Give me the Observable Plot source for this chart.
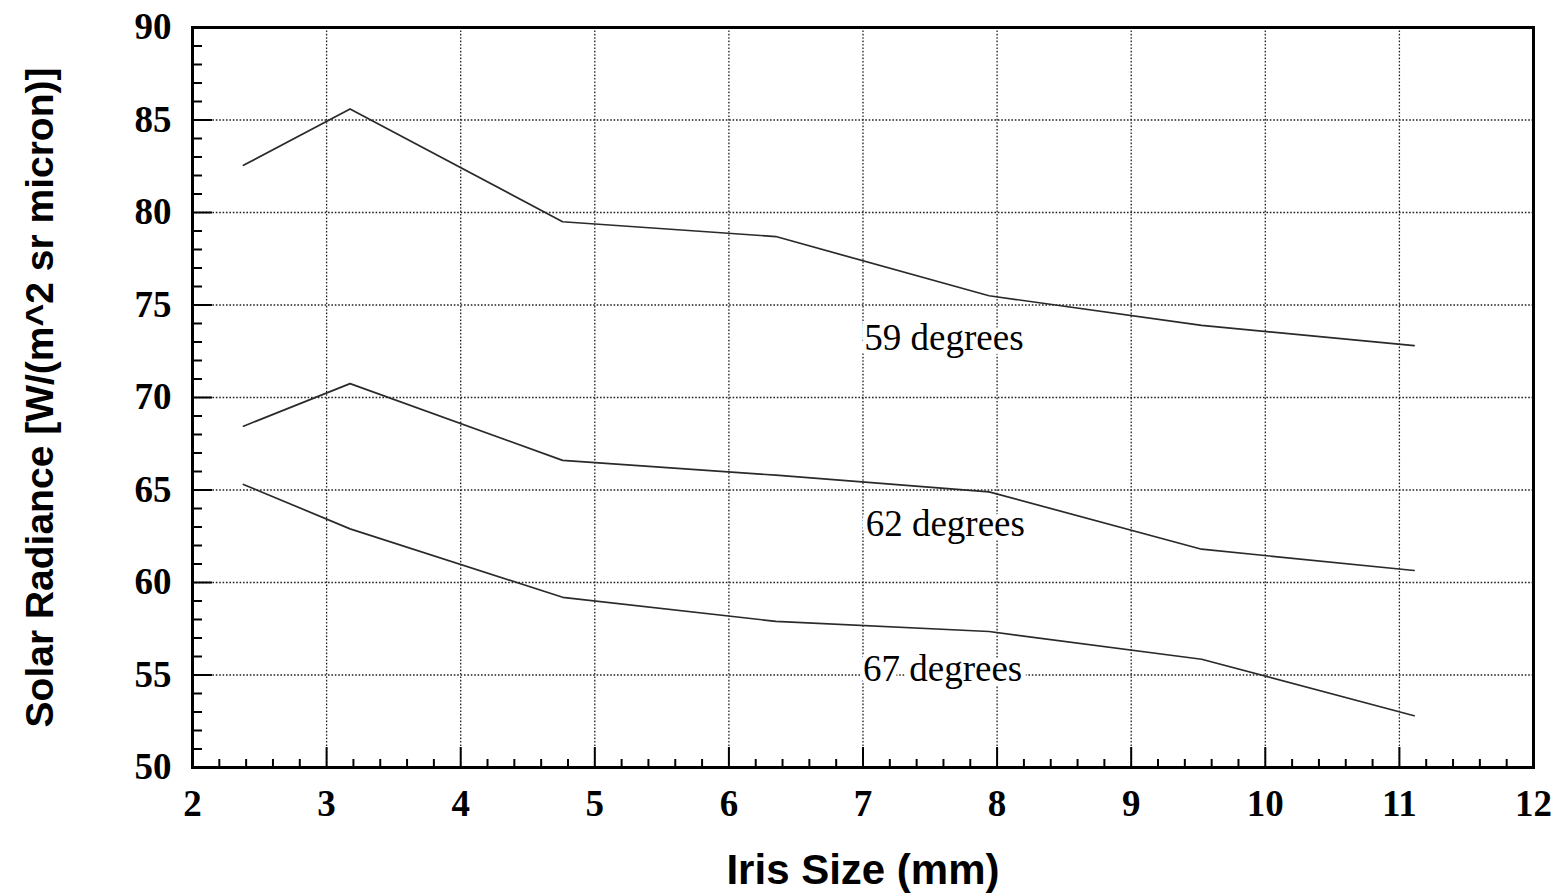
<!DOCTYPE html>
<html>
<head>
<meta charset="utf-8">
<script src="https://cdn.jsdelivr.net/npm/d3@7"></script>
<script src="https://cdn.jsdelivr.net/npm/@observablehq/plot@0.6"></script>
<style>
  html, body { margin: 0; padding: 0; background: #fff; }
  #chart { width: 1564px; height: 895px; }
</style>
</head>
<body>
<div id="chart"></div>
<script>
// Iris size (mm)
const irisSize = [2.38, 3.175, 4.76, 6.35, 7.94, 9.525, 11.11];
// Solar radiance for each angle
const deg59 = [82.55, 85.6, 79.5, 78.7, 75.5, 73.9, 72.8];
const deg62 = [68.45, 70.75, 66.6, 65.8, 64.9, 61.8, 60.65];
const deg67 = [65.3, 62.9, 59.2, 57.9, 57.35, 55.85, 52.8];
const seriesNames = ["59 degrees", "62 degrees", "67 degrees"];
// label anchor positions (data units)
const labelX = [7.01, 7.02, 7.0];
const labelY = [72.57, 62.5, 54.7];
const xTicks = [2, 3, 4, 5, 6, 7, 8, 9, 10, 11, 12];
const yTicks = [50, 55, 60, 65, 70, 75, 80, 85, 90];
const xTitle = "Iris Size (mm)";
const yTitle = "Solar Radiance [W/(m^2 sr micron)]";

const seriesValues = [deg59, deg62, deg67];
const rows = [];
seriesValues.forEach((vals, i) => vals.forEach((v, j) => rows.push({series: seriesNames[i], x: irisSize[j], y: v})));
const labels = seriesNames.map((s, i) => ({text: s, x: labelX[i], y: labelY[i]}));

const xMinor = d3.range(2, 12.0001, 0.2).map(d => +d.toFixed(1)).filter(d => Math.abs(d - Math.round(d)) > 1e-6);
const yMinor = d3.range(50, 91, 1).filter(d => d % 5 !== 0);
const xGrid = xTicks.slice(1, -1);
const yGrid = yTicks.slice(1, -1);

const serif = "Liberation Serif, Times New Roman, serif";
const sans = "Liberation Sans, Arial, sans-serif";

const chart = Plot.plot({
  width: 1564,
  height: 895,
  marginLeft: 192,
  marginRight: 31,
  marginTop: 27,
  marginBottom: 128,
  x: {domain: [2, 12]},
  y: {domain: [50, 90]},
  style: {background: "white", color: "black"},
  marks: [
    Plot.ruleX(xGrid, {x: d => d, stroke: "#222", strokeWidth: 1.3, strokeDasharray: "1.6,1.8"}),
    Plot.ruleY(yGrid, {y: d => d, stroke: "#222", strokeWidth: 1.3, strokeDasharray: "1.6,1.8"}),
    Plot.line(rows, {x: "x", y: "y", z: "series", stroke: "#2a2a2a", strokeWidth: 1.7}),
    Plot.text(labels, {x: "x", y: "y", text: "text", textAnchor: "start", lineAnchor: "bottom",
      fontFamily: serif, fontSize: 37, fill: "black", stroke: "white", strokeWidth: 10, paintOrder: "stroke"}),
    // minor ticks
    Plot.axisX({ticks: xMinor, tickSize: -8, tickFormat: () => "", label: null, strokeWidth: 2}),
    Plot.axisY({ticks: yMinor, tickSize: -10, tickFormat: () => "", label: null, strokeWidth: 2}),
    // major ticks
    Plot.axisX({ticks: xTicks, tickSize: -20, tickFormat: () => "", label: null, strokeWidth: 2}),
    Plot.axisY({ticks: yTicks, tickSize: -20, tickFormat: () => "", label: null, strokeWidth: 2}),
    // tick labels
    Plot.axisX({ticks: xTicks, tickSize: 0, tickPadding: 22, label: null, fontSize: 37,
      fontFamily: serif, fontWeight: "bold", tickFormat: d => String(d)}),
    Plot.axisY({ticks: yTicks, tickSize: 0, tickPadding: 21, label: null, fontSize: 37,
      fontFamily: serif, fontWeight: "bold", tickFormat: d => String(d)}),
    // titles
    Plot.text([xTitle], {frameAnchor: "bottom", dy: 116, lineAnchor: "bottom", textAnchor: "middle", text: d => d,
      fontFamily: sans, fontWeight: "bold", fontSize: 42, fill: "black"}),
    Plot.text([yTitle], {frameAnchor: "left", dx: -152, rotate: -90, lineAnchor: "middle", textAnchor: "middle", text: d => d,
      fontFamily: sans, fontWeight: "bold", fontSize: 39, fill: "black"}),
    Plot.frame({stroke: "black", strokeWidth: 3})
  ]
});
document.getElementById("chart").appendChild(chart);
</script>
</body>
</html>
